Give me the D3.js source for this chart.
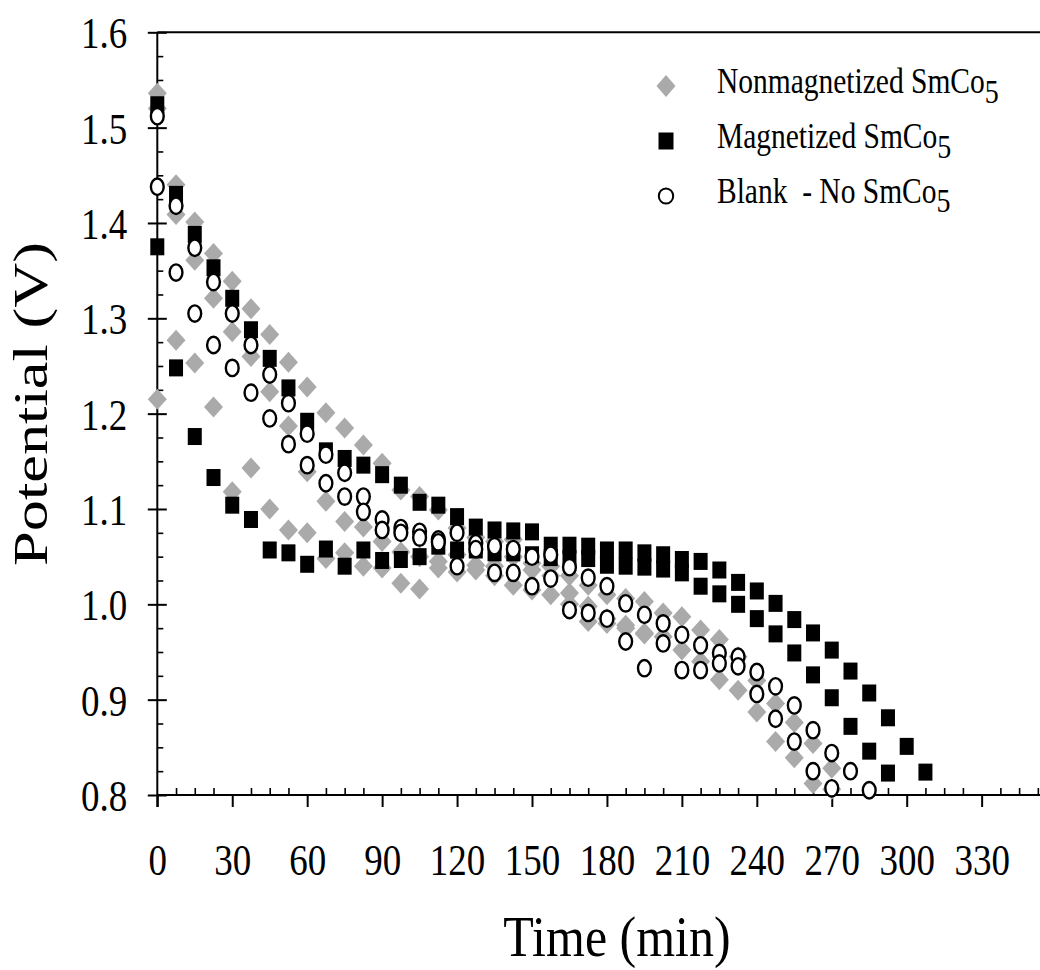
<!DOCTYPE html>
<html><head><meta charset="utf-8">
<script src="https://cdn.jsdelivr.net/npm/d3@7"></script>
<style>
body{margin:0;background:#fff}
svg{display:block}
text{font-family:"Liberation Serif","Times New Roman",serif;fill:#000}
</style>
</head><body>
<svg id="chart" width="1040" height="970"></svg>
<script>
// ---- data (time in min, potential in V) ----
const times = [0,7.5,15,22.5,30,37.5,45,52.5,60,67.5,75,82.5,90,97.5,105,112.5,120,127.5,135,142.5,150,157.5,165,172.5,180,187.5,195,202.5,210,217.5,225,232.5,240,247.5,255,262.5,270,277.5,285,292.5,300,307.5];

const nonmagRun1 = [1.536,1.440,1.401,1.368,1.339,1.310,1.283,1.254,1.228,1.201,1.185,1.167,1.148,1.120,1.113,1.099,1.080,1.070,1.066,1.068,1.043,1.040,1.030,1.020,1.010,1.006,1.003,0.991,0.987,0.973,0.963,0.945,0.920,0.896,0.876,0.854,0.828,null,null,null,null,null];
const nonmagRun2 = [1.520,1.409,1.361,1.321,1.286,1.260,1.223,1.187,1.139,1.108,1.087,1.081,1.066,1.055,1.050,1.045,1.052,1.041,1.040,1.050,1.036,1.030,1.012,0.998,0.985,0.975,0.970,0.966,0.952,0.940,0.921,0.910,0.887,0.856,0.839,0.812,0.806,null,null,null,null,null];
const nonmagRun3 = [1.215,1.277,1.253,1.207,1.118,1.143,1.100,1.078,1.075,1.048,1.054,1.040,1.038,1.022,1.016,1.038,1.034,1.036,1.030,1.020,1.015,1.010,1.000,0.982,0.980,0.978,0.969,null,null,null,null,null,null,null,null,null,null,null,null,null,null,null];

const magRun1 = [1.524,1.430,1.388,1.353,1.321,1.288,1.258,1.227,1.192,1.161,1.153,1.146,1.136,1.125,1.107,1.104,1.092,1.081,1.078,1.077,1.076,1.062,1.062,1.061,1.057,1.057,1.054,1.052,1.047,1.045,1.036,1.023,1.014,1.001,0.984,0.970,0.952,0.930,0.907,0.881,0.851,0.824];
const magRun2 = [1.375,1.248,1.176,1.133,1.104,1.089,1.057,1.054,1.042,1.058,1.040,1.057,1.046,1.047,1.050,1.061,1.057,1.057,1.054,1.054,1.052,1.049,1.048,1.048,1.041,1.040,1.039,1.037,1.033,1.019,1.011,1.000,0.985,0.969,0.949,0.926,0.902,0.872,0.846,0.823,null,null];

const blankRun1 = [1.512,1.418,1.374,1.338,1.305,1.272,1.241,1.211,1.179,1.157,1.138,1.113,1.089,1.080,1.076,1.068,1.075,1.064,1.061,1.058,1.050,1.052,1.039,1.028,1.019,1.001,0.989,0.980,0.968,0.957,0.949,0.945,0.929,0.914,0.894,0.868,0.844,0.825,0.805,null,null,null];
const blankRun2 = [1.438,1.348,1.305,1.272,1.248,1.222,1.195,1.168,1.146,1.127,1.113,1.097,1.078,1.075,1.070,1.065,1.040,1.058,1.033,1.033,1.019,1.027,0.994,0.991,0.985,0.961,0.933,0.959,0.931,0.931,0.938,0.935,0.906,0.880,0.856,0.825,0.807,null,null,null,null,null];

const xTickValues = [0,30,60,90,120,150,180,210,240,270,300,330];
const yTickValues = [0.8,0.9,1.0,1.1,1.2,1.3,1.4,1.5,1.6];
const legendLabels = ["Nonmagnetized SmCo", "Magnetized SmCo", "Blank\u00A0 - No SmCo"];
const legendSub = "5";
const xTitle = "Time (min)";
const yTitle = "Potential (V)";

// ---- layout ----
const svg = d3.select("#chart");
const x0 = 157.3, pxPerMin = 2.498;
const x = d3.scaleLinear().domain([0, 360]).range([x0, x0 + 360 * pxPerMin]);
const y = d3.scaleLinear().domain([0.8, 1.6]).range([795, 32.3]);
const SY = 1.2; // vertical stretch of glyphs
const TICK_FS = 37;

const axisW = 2;

// minor tick values
const xMinor = d3.range(0, 360.1, 7.5).filter(v => Math.abs(v % 30) > 1e-6);
const yMinor = d3.range(0, 33).map(i => 0.8 + i * 0.025).filter(v => Math.abs(Math.round(v * 10) - v * 10) > 1e-6);

// x axis minor (inside)
svg.append("g").attr("transform", `translate(0,${y(0.8)})`)
  .call(d3.axisBottom(x).tickValues(xMinor).tickSize(-7).tickFormat(""))
  .call(g => g.select(".domain").remove())
  .call(g => g.selectAll("line").attr("stroke", "#000").attr("stroke-width", 1.6));

// x axis major
const gx = svg.append("g").attr("transform", `translate(0,${y(0.8)})`)
  .call(d3.axisBottom(x).tickValues(xTickValues).tickSize(12).tickFormat(d => d))
  .call(g => g.select(".domain").remove());
gx.selectAll("line").attr("stroke", "#000").attr("stroke-width", axisW);
gx.selectAll("text").attr("y", 0).attr("dy", 0)
  .attr("transform", `translate(0,80) scale(1,${SY})`)
  .attr("font-size", TICK_FS).attr("fill", "#000");

// y axis minor (inside)
svg.append("g").attr("transform", `translate(${x0},0)`)
  .call(d3.axisLeft(y).tickValues(yMinor).tickSize(-6).tickFormat(""))
  .call(g => g.select(".domain").remove())
  .call(g => g.selectAll("line").attr("stroke", "#000").attr("stroke-width", 1.6));

// y axis major (crossing ticks)
const gy = svg.append("g").attr("transform", `translate(${x0},0)`)
  .call(d3.axisLeft(y).tickValues(yTickValues).tickSize(9.5).tickFormat(d3.format(".1f")))
  .call(g => g.select(".domain").remove());
gy.selectAll("line").attr("x1", -9.5).attr("x2", 9.5).attr("stroke", "#000").attr("stroke-width", axisW);
gy.selectAll("text").attr("x", 0).attr("dy", "0.35em")
  .attr("transform", `translate(-30,0) scale(1,${SY})`)
  .attr("text-anchor", "end").attr("font-size", TICK_FS).attr("fill", "#000");

// axis lines and top frame
svg.append("line").attr("x1", x0).attr("x2", x0).attr("y1", y(1.6)).attr("y2", y(0.8) + 12)
  .attr("stroke", "#000").attr("stroke-width", axisW);
svg.append("line").attr("x1", x0).attr("x2", 1040).attr("y1", y(0.8)).attr("y2", y(0.8))
  .attr("stroke", "#000").attr("stroke-width", axisW);
svg.append("line").attr("x1", x0).attr("x2", 1040).attr("y1", y(1.6)).attr("y2", y(1.6))
  .attr("stroke", "#000").attr("stroke-width", axisW);

// axis titles
svg.append("text").attr("transform", `translate(617,956) scale(1,1.12)`)
  .attr("text-anchor", "middle").attr("font-size", 50).text(xTitle);
svg.append("text").attr("transform", `translate(46.5,404) rotate(-90) scale(1.3,1)`)
  .attr("text-anchor", "middle").attr("font-size", 48).text(yTitle);

// ---- markers ----
const GREY = "#aaaaaa";
function diamondPath(cx, cy, w, h) { return `M${cx},${cy - h / 2}L${cx + w / 2},${cy}L${cx},${cy + h / 2}L${cx - w / 2},${cy}Z`; }
function pts(run) { return times.map((t, i) => ({ t, v: run[i] })).filter(d => d.v != null); }

const gD = svg.append("g");
[nonmagRun1, nonmagRun2, nonmagRun3].forEach(run => {
  gD.selectAll(null).data(pts(run)).join("path")
    .attr("d", d => diamondPath(x(d.t), y(d.v), 19, 21))
    .attr("fill", GREY);
});
const gS = svg.append("g");
[magRun1, magRun2].forEach(run => {
  gS.selectAll(null).data(pts(run)).join("rect")
    .attr("x", d => x(d.t) - 7).attr("y", d => y(d.v) - 8.5)
    .attr("width", 14).attr("height", 17).attr("fill", "#000");
});
const gC = svg.append("g");
[blankRun1, blankRun2].forEach(run => {
  gC.selectAll(null).data(pts(run)).join("ellipse")
    .attr("cx", d => x(d.t)).attr("cy", d => y(d.v))
    .attr("rx", 6.4).attr("ry", 8.2)
    .attr("fill", "#fff").attr("stroke", "#000").attr("stroke-width", 2.4);
});

// ---- legend ----
const legY = [86, 141, 196];
const lg = svg.append("g");
lg.append("path").attr("d", diamondPath(666, legY[0], 19, 22)).attr("fill", GREY);
lg.append("rect").attr("x", 666 - 7.5).attr("y", legY[1] - 8.5).attr("width", 15).attr("height", 17).attr("fill", "#000");
lg.append("ellipse").attr("cx", 666).attr("cy", legY[2]).attr("rx", 7.2).attr("ry", 7.6)
  .attr("fill", "#fff").attr("stroke", "#000").attr("stroke-width", 2);
const legBase = [93.3, 148.3, 202.7];
legendLabels.forEach((lab, i) => {
  const t = lg.append("text").attr("transform", `translate(717,${legBase[i]}) scale(1,1.19)`)
    .attr("font-size", 29.5);
  t.append("tspan").text(lab);
  t.append("tspan").attr("dy", 8).attr("font-size", 28).text(legendSub);
});
</script>
</body></html>
